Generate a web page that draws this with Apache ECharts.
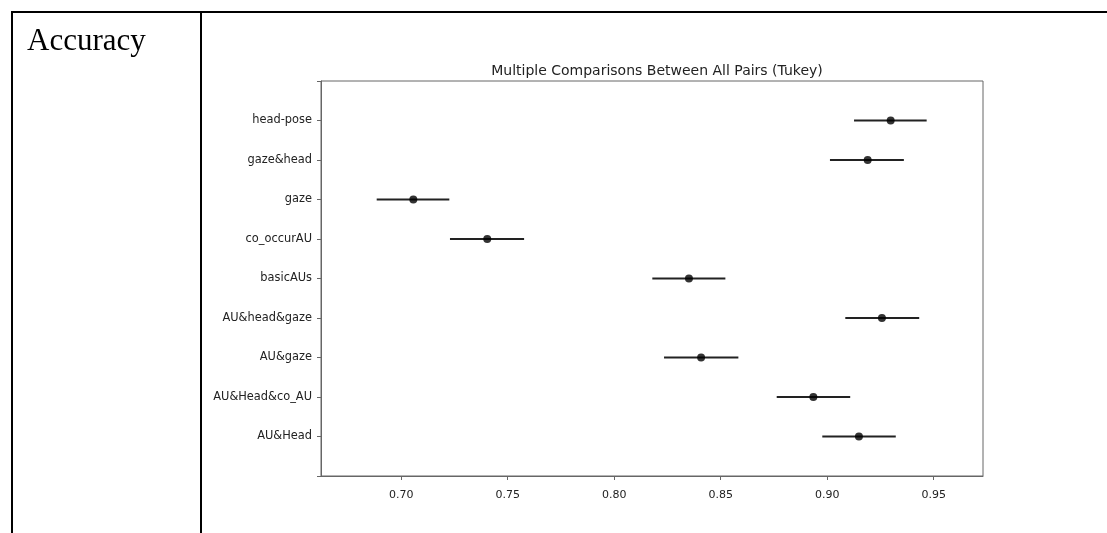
<!DOCTYPE html>
<html>
<head>
<meta charset="utf-8">
<script src="https://cdn.jsdelivr.net/npm/echarts@6/dist/echarts.min.js"></script>
<style>
  html, body { margin: 0; padding: 0; background: #fff; }
  #chart { width: 1107px; height: 533px; }
</style>
</head>
<body>
<div id="chart"></div>
<script>
// Groups, listed from the bottom row of the plot to the top row
const categories = ['AU&Head', 'AU&Head&co_AU', 'AU&gaze', 'AU&head&gaze', 'basicAUs',
                    'co_occurAU', 'gaze', 'gaze&head', 'head-pose'];
// Group means and the lower / upper ends of each Tukey interval
const means = [0.9149, 0.8935, 0.8408, 0.9257, 0.8351, 0.7404, 0.7057, 0.9190, 0.9298];
const lower = [0.8977, 0.8763, 0.8234, 0.9085, 0.8179, 0.7229, 0.6885, 0.9013, 0.9126];
const upper = [0.9322, 0.9108, 0.8583, 0.9432, 0.8522, 0.7577, 0.7226, 0.9360, 0.9467];
// Tick values on the accuracy axis
const xTicks = [0.70, 0.75, 0.80, 0.85, 0.90, 0.95];

const font = 'DejaVu Sans';
const axisGrey = '#666';

const intervalData = categories.map((c, i) => [lower[i], upper[i], i]);
const meanData = categories.map((c, i) => [means[i], i]);

const chart = echarts.init(document.getElementById('chart'), null, { renderer: 'canvas' });
chart.setOption({
  animation: false,
  backgroundColor: '#fff',
  title: {
    text: 'Multiple Comparisons Between All Pairs (Tukey)',
    left: 652, top: 59, textAlign: 'center',
    textStyle: { fontFamily: font, fontSize: 14, fontWeight: 'normal', color: '#222' }
  },
  grid: {
    left: 321, top: 81, width: 662, height: 395,
    show: true, borderColor: axisGrey, borderWidth: 1, backgroundColor: 'transparent'
  },
  xAxis: {
    type: 'value', min: 0.66235, max: 0.97315,
    axisLine: { show: true, onZero: false, lineStyle: { color: axisGrey, width: 1 } },
    axisTick: { show: true, customValues: xTicks, length: 4, lineStyle: { color: axisGrey } },
    axisLabel: {
      customValues: xTicks, margin: 14,
      fontFamily: font, fontSize: 11, color: '#222',
      formatter: v => v.toFixed(2)
    },
    splitLine: { show: false }
  },
  yAxis: {
    type: 'value', min: -1, max: 9, interval: 1,
    axisLine: { show: true, onZero: false, lineStyle: { color: axisGrey, width: 1 } },
    axisTick: { show: true, length: 4, lineStyle: { color: axisGrey } },
    axisLabel: {
      margin: 9, fontFamily: font, fontSize: 11.4, color: '#222',
      formatter: v => (v >= 0 && v < categories.length ? categories[v] : '')
    },
    splitLine: { show: false }
  },
  series: [
    {
      type: 'custom',
      data: intervalData,
      encode: { x: [0, 1], y: 2 },
      renderItem: (params, api) => {
        const row = api.value(2);
        const a = api.coord([api.value(0), row]);
        const b = api.coord([api.value(1), row]);
        return {
          type: 'line',
          shape: { x1: a[0], y1: a[1], x2: b[0], y2: b[1] },
          style: { stroke: '#222', lineWidth: 2 }
        };
      },
      z: 2
    },
    {
      type: 'scatter',
      data: meanData,
      symbol: 'circle', symbolSize: 8,
      itemStyle: { color: '#000' },
      z: 3
    }
  ],
  graphic: [
    // white strip where the plot image ends inside its cell
    { type: 'rect', shape: { x: 202, y: 14, width: 11, height: 519 }, style: { fill: '#fff' }, z: 100 },
    // table frame
    { type: 'line', shape: { x1: 11, y1: 12, x2: 1107, y2: 12 }, style: { stroke: '#000', lineWidth: 2 }, z: 101 },
    { type: 'line', shape: { x1: 12, y1: 11, x2: 12, y2: 533 }, style: { stroke: '#000', lineWidth: 2 }, z: 101 },
    { type: 'line', shape: { x1: 201, y1: 11, x2: 201, y2: 533 }, style: { stroke: '#000', lineWidth: 2 }, z: 101 },
    {
      type: 'text', left: 27, top: 26, z: 101,
      style: { text: 'Accuracy', font: '31px "Liberation Serif"', fill: '#000' }
    }
  ]
});
</script>
</body>
</html>
